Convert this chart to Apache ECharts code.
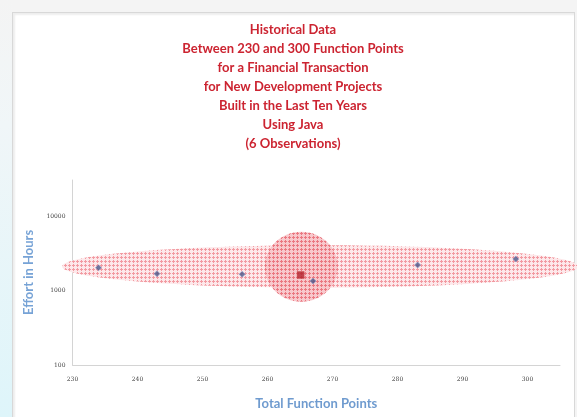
<!DOCTYPE html>
<html>
<head>
<meta charset="utf-8">
<script src="https://cdn.jsdelivr.net/npm/echarts@6/dist/echarts.min.js"></script>
<style>
  html, body { margin: 0; padding: 0; width: 577px; height: 417px; overflow: hidden; background: #f4f4f4; }
  #strip { position: absolute; left: 0; top: 0; width: 12px; height: 417px;
           background: linear-gradient(#f4f4f4, #f0f6f8 30%, #def5fa); }
  #panel { position: absolute; left: 12px; top: 12px; width: 561px; height: 410px;
           background: #fff; border: 1px solid #d8d8d8; box-shadow: inset 2px 2px 2px #eee; }
  #chart { position: absolute; left: 0; top: 0; width: 577px; height: 417px; }
</style>
</head>
<body>
<div id="strip"></div>
<div id="panel"></div>
<div id="chart"></div>
<script>
// 观测数据 (功能点, 工时)
const functionPoints = [234.0, 243.0, 256.1, 267.0, 283.1, 298.2];
const effortHours = [2020, 1680, 1650, 1340, 2200, 2650];
// 平均点
const avgPoint = [265.1, 1615];
// 标注区域: [中心功能点, 中心工时, 半宽(功能点), 半高(log10)]
const bandEllipse = [268.1, 2100, 39.7, 0.285];
const avgCircle = [265.2, 2085, 5.6, 0.47];

const titleLines = [
    'Historical Data',
    'Between 230 and 300 Function Points',
    'for a Financial Transaction',
    'for New Development Projects',
    'Built in the Last Ten Years',
    'Using Java',
    '(6 Observations)'
];

// 红色网点填充 (不透明小图块)
function makePattern(bg, dot) {
    const c = document.createElement('canvas');
    c.width = 4;
    c.height = 4;
    const ctx = c.getContext('2d');
    ctx.fillStyle = bg;
    ctx.fillRect(0, 0, 4, 4);
    ctx.fillStyle = dot;
    [[1, 0], [0, 1], [1, 1], [2, 1], [1, 2]].forEach(p => ctx.fillRect(p[0], p[1], 1, 1));
    return c;
}
const bandTile = makePattern('#fde8ea', '#f29aa1');
const circleTile = makePattern('#f8c8cc', '#ea7780');

function shapeItem(api, tile) {
    const cx = api.value(0), cy = api.value(1), hw = api.value(2), hh = api.value(3);
    const c = api.coord([cx, cy]);
    const r = api.coord([cx + hw, cy]);
    const t = api.coord([cx, cy * Math.pow(10, hh)]);
    return {
        type: 'ellipse',
        shape: { cx: c[0], cy: c[1], rx: r[0] - c[0], ry: c[1] - t[1] },
        style: { fill: { image: tile, repeat: 'repeat' }, stroke: null }
    };
}

const chart = echarts.init(document.getElementById('chart'), null, { renderer: 'canvas' });

function isPow10(v) {
    const l = Math.log10(v);
    return Math.abs(l - Math.round(l)) < 1e-6;
}

const option = {
    backgroundColor: 'transparent',
    animation: false,
    title: {
        text: titleLines.join('\n'),
        left: 293,
        top: 20,
        textAlign: 'center',
        padding: 0,
        textStyle: {
            fontFamily: 'Lato',
            fontWeight: 'bold',
            fontSize: 13,
            lineHeight: 19,
            color: '#cc2431'
        }
    },
    grid: { left: 72.5, right: 17, top: 180, bottom: 52 },
    xAxis: {
        type: 'value',
        min: 230,
        max: 305,
        interval: 10,
        name: 'Total Function Points',
        nameLocation: 'middle',
        nameGap: 32,
        nameTextStyle: { fontFamily: 'Lato', fontWeight: 'bold', fontSize: 13, color: '#6f9bcf' },
        axisLine: { lineStyle: { color: '#d4d4d4', width: 1 } },
        axisTick: { show: false },
        splitLine: { show: false },
        axisLabel: {
            margin: 11,
            fontFamily: 'DejaVu Serif',
            fontSize: 6,
            color: '#444',
            formatter: v => (v % 10 === 0 && v <= 300 ? String(v) : '')
        }
    },
    yAxis: {
        type: 'log',
        logBase: 10,
        min: 100,
        max: 30400,
        name: 'Effort in Hours',
        nameLocation: 'middle',
        nameGap: 36,
        nameTextStyle: { fontFamily: 'Lato', fontWeight: 'bold', fontSize: 13, color: '#77a3d6' },
        axisLine: { show: true, lineStyle: { color: '#d4d4d4', width: 1 } },
        axisTick: { show: false },
        splitLine: { show: false },
        minorSplitLine: { show: false },
        axisLabel: {
            margin: 7,
            fontFamily: 'DejaVu Serif',
            fontSize: 6,
            color: '#444',
            formatter: v => (isPow10(v) ? String(Math.round(v)) : '')
        }
    },
    series: [
        {
            type: 'custom',
            clip: false,
            silent: true,
            z: 1,
            data: [bandEllipse],
            renderItem: (params, api) => shapeItem(api, bandTile)
        },
        {
            type: 'custom',
            clip: false,
            silent: true,
            z: 2,
            data: [avgCircle],
            renderItem: (params, api) => shapeItem(api, circleTile)
        },
        {
            type: 'scatter',
            z: 5,
            symbol: 'diamond',
            symbolSize: 6,
            itemStyle: { color: '#4a5888', borderColor: 'rgba(140,150,200,0.7)', borderWidth: 1 },
            data: functionPoints.map((fp, i) => [fp, effortHours[i]])
        },
        {
            type: 'scatter',
            z: 6,
            symbol: 'rect',
            symbolSize: 7,
            itemStyle: { color: '#b3202a', borderColor: 'rgba(200,80,80,0.6)', borderWidth: 1 },
            data: [avgPoint]
        }
    ]
};

chart.setOption(option);
window.addEventListener('resize', function() {
    chart.resize();
});
</script>
</body>
</html>
